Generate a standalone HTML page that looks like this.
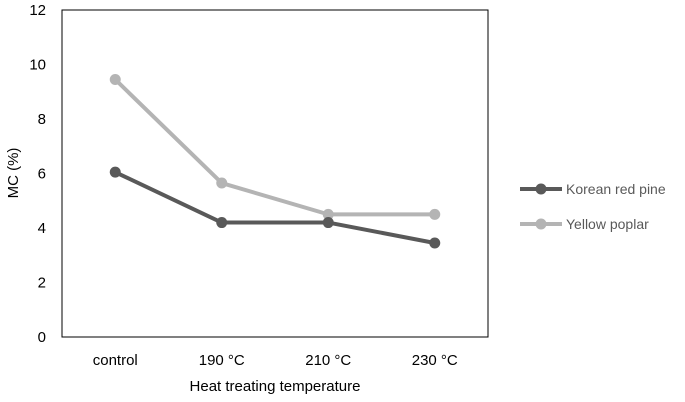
<!DOCTYPE html>
<html><head><meta charset="utf-8"><style>
body{margin:0;background:#fff;}
svg{display:block;font-family:"Liberation Sans",sans-serif;}
</style></head><body>
<svg id="chart" width="685" height="402">
<rect x="62" y="10" width="426" height="327" fill="none" stroke="#000" stroke-width="1"/>
<g id="yticks"></g>
<g id="xticks"></g>
<text x="18" y="173" font-size="15" text-anchor="middle" transform="rotate(-90 18 173)" fill="#000">MC (%)</text>
<text x="275" y="391" font-size="15" text-anchor="middle" fill="#000">Heat treating temperature</text>
<g id="series"></g>
<g id="legend"></g>
</svg>
<script>
const categories=["control","190 °C","210 °C","230 °C"];
const koreanRedPine=[6.05,4.2,4.2,3.45];
const yellowPoplar=[9.45,5.65,4.5,4.5];
const yTicks=[0,2,4,6,8,10,12];
const seriesNames=["Korean red pine","Yellow poplar"];
const NS="http://www.w3.org/2000/svg";
const L=62,R=488,T=10,B=337,yMax=12;
const xs=i=>L+(R-L)/categories.length*(i+0.5);
const ys=v=>B-(B-T)*v/yMax;
function mk(tag,attrs,parent){const e=document.createElementNS(NS,tag);for(const k in attrs)e.setAttribute(k,attrs[k]);parent.appendChild(e);return e;}
const yg=document.getElementById('yticks');
yTicks.forEach(t=>{const e=mk('text',{x:46,y:ys(t)+5,'font-size':15,'text-anchor':'end',fill:'#000'},yg);e.textContent=t;

});
const xg=document.getElementById('xticks');
categories.forEach((c,i)=>{const e=mk('text',{x:xs(i),y:365,'font-size':15,'text-anchor':'middle',fill:'#000'},xg);e.textContent=c;

});
const sg=document.getElementById('series');
function draw(vals,color,name){const g=mk('g',{},sg);


mk('polyline',{points:vals.map((v,i)=>xs(i)+','+ys(v)).join(' '),fill:'none',stroke:color,'stroke-width':4,'stroke-linejoin':'round'},g);
vals.forEach((v,i)=>{const c=mk('circle',{cx:xs(i),cy:ys(v),r:5.5,fill:color},g);

});}
draw(yellowPoplar,'#b4b4b4','yellow-poplar-series');
draw(koreanRedPine,'#595959','korean-red-pine-series');
const lg=document.getElementById('legend');
[['#595959',189],['#b4b4b4',224]].forEach((d,i)=>{
mk('line',{x1:520,x2:562,y1:d[1],y2:d[1],stroke:d[0],'stroke-width':4},lg);
mk('circle',{cx:541,cy:d[1],r:5.5,fill:d[0]},lg);
const t=mk('text',{x:566,y:d[1]+5,'font-size':14,fill:'#595959'},lg);t.textContent=seriesNames[i];

});
</script>
</body></html>
